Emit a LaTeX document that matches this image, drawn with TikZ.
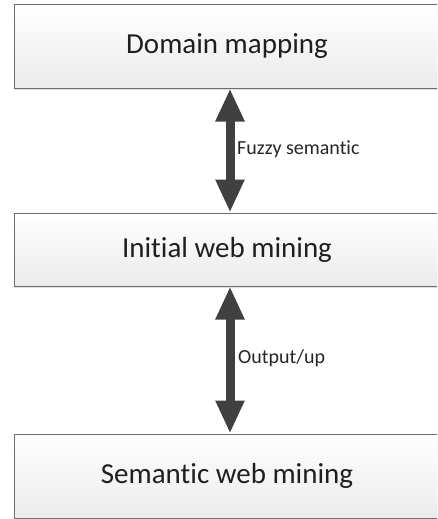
\documentclass[tikz,border=0pt]{standalone}
\usepackage{fontspec}
\setmainfont[Ligatures=NoCommon]{Carlito}
\usetikzlibrary{arrows.meta,shadows}
\definecolor{boxline}{HTML}{6E6E6E}
\definecolor{arrowgray}{HTML}{404040}
\tikzset{
  stagebox/.style={draw=boxline, line width=1pt, rectangle,
    top color=white, bottom color=black!8,
    drop shadow={shadow xshift=0pt, shadow yshift=-1.5pt, opacity=0.25},
    minimum width=426pt, font=\fontsize{29}{34}\selectfont, text=black!88, inner sep=0pt},
  linkarrow/.style={draw=arrowgray, line width=9pt,
    {Triangle[width=27pt,length=33pt]}-{Triangle[width=27pt,length=33pt]},
    fill=arrowgray},
  linklabel/.style={anchor=west, font=\fontsize{20}{24}\selectfont, text=black!85, inner sep=0pt}
}
\begin{document}
\begin{tikzpicture}[x=1pt, y=-1pt]
  \useasboundingbox (0,0) rectangle (437,519);
  \clip (0,0) rectangle (437,519);
  \fill[white] (0,0) rectangle (437,519);

  % three stages, stacked
  \node[stagebox, minimum height=83pt] (domain) at (227,46.5) {Domain mapping};
  \node[stagebox, minimum height=73pt] (initial) at (227,249.5) {Initial web mining};
  \node[stagebox, minimum height=84pt] (semantic) at (227,476) {Semantic web mining};

  % two-way links between stages
  \draw[linkarrow] (domain.south -| 230,0) -- (initial.north -| 230,0);
  \draw[linkarrow] (initial.south -| 230,0) -- (semantic.north -| 230,0);

  \node[linklabel] (fuzzy) at (237,149) {Fuzzy semantic};
  \node[linklabel] (output) at (238,358) {Output/up};
\end{tikzpicture}
\end{document}
